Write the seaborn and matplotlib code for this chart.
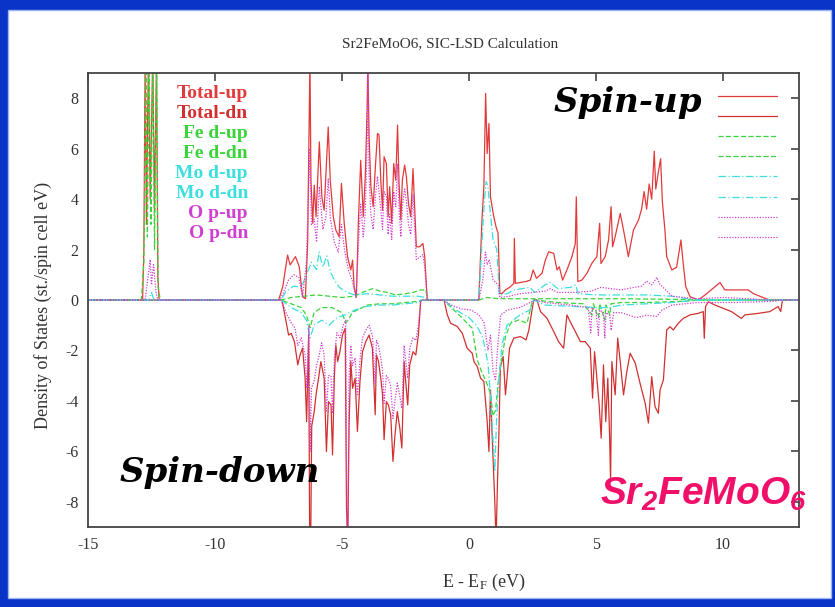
import matplotlib
matplotlib.use("Agg")
import matplotlib.pyplot as plt
import seaborn as sns
import pandas as pd
from matplotlib.patches import Rectangle

# ---------------- data ----------------
e_tot_up = [-15, -12.85, -12.8, -12.75, -12.7, -12.62, -12.55, -12.45, -12.38, -12.3, -12.25, -12.2,
            -7.5, -7.46, -7.33, -7.14, -7.04, -6.83, -6.68, -6.55, -6.44, -6.35, -6.3, -6.26, -6.22, -6.15,
            -6.09, -6.02, -5.89, -5.79, -5.70, -5.63, -5.54, -5.46, -5.34, -5.24, -5.11, -5.02, -4.91, -4.78,
            -4.65, -4.58, -4.52, -4.43, -4.35, -4.26, -4.16, -4.08, -4.01, -3.98, -3.93, -3.86, -3.77, -3.69,
            -3.60, -3.54, -3.47, -3.40, -3.34, -3.25, -3.18, -3.12, -3.04, -2.96, -2.88, -2.81, -2.75, -2.68,
            -2.62, -2.53, -2.46, -2.38, -2.29, -2.20, -2.13, -2.07, -1.94, -1.81, -1.74, -1.64,
            0.39, 0.52, 0.59, 0.66, 0.72, 0.79, 0.85, 0.98, 1.07, 1.15, 1.22, 1.31, 1.44, 1.64, 1.77, 1.79,
            1.83, 2.23, 2.42, 2.53, 2.66, 2.88, 3.01, 3.14, 3.34, 3.47, 3.56, 3.69, 3.86, 4.06, 4.19, 4.23,
            4.29, 4.45, 4.65, 4.84, 5.04, 5.15, 5.20, 5.37, 5.50, 5.60, 5.66, 5.76, 5.96, 6.09, 6.28, 6.48,
            6.68, 6.8, 6.9, 7.0, 7.1, 7.2, 7.3, 7.36, 7.45, 7.55, 7.62, 7.72, 7.79, 7.99, 8.18, 8.35, 8.44,
            8.54, 8.71, 9.03, 9.30, 9.89, 10.08, 11.0, 11.19, 11.65, 11.85, 13]
d_tot_up = [0, 0, 2.0, 9.6, 3.0, 9.6, 4.0, 9.6, 3.5, 9.6, 1.0, 0,
            0, 0.1, 0.53, 1.78, 1.39, 1.72, 1.32, 0.13, 0.05, 2.25, 6.47, 9.6, 4.75, 3.04,
            4.55, 3.3, 6.27, 4.09, 3.56, 5.02, 6.86, 4.75, 3.3, 2.77, 2.51, 4.62, 3.04, 1.72,
            1.19, 1.58, 0.53, 0.13, 3.17, 5.54, 3.30, 4.88, 7.52, 9.4, 6.47, 4.49, 3.70, 5.15,
            6.60, 6.55, 4.75, 3.56, 5.68, 5.41, 3.30, 4.49, 3.04, 5.41, 4.75, 6.93, 4.62, 3.17,
            4.75, 5.35, 4.88, 3.83, 3.30, 5.21, 3.56, 2.11, 2.11, 2.24, 1.72, 0.0,
            0, 3.30, 4.49, 8.19, 5.81, 7.0, 4.09, 3.30, 2.90, 2.64, 0.26, 0.26, 0.40, 0.53, 0.66, 2.44,
            0.66, 0.73, 0.79, 1.19, 0.86, 1.06, 1.58, 1.91, 1.85, 1.19, 1.32, 0.79, 1.19, 1.72, 2.24, 4.09,
            0.73, 0.79, 1.06, 1.45, 1.72, 3.04, 1.45, 1.72, 2.38, 3.70, 2.11, 2.51, 3.43, 2.77, 1.72, 2.77,
            3.17, 3.6, 4.3, 3.6, 4.6, 4.0, 5.9, 4.4, 5.0, 5.6, 3.9, 2.77, 1.72, 1.19, 1.3, 2.38, 1.45,
            0.53, 0.13, 0.0, 0.2, 0.69, 0.4, 0.4, 0.26, 0.07, 0, 0]

e_tot_dn = [-15, -7.4, -7.36, -7.20, -7.10, -7.00, -6.87, -6.74, -6.65, -6.55, -6.45, -6.39, -6.31, -6.27,
            -6.23, -6.19, -6.09, -6.02, -5.92, -5.83, -5.70, -5.61, -5.53, -5.43, -5.37, -5.30, -5.24, -5.17,
            -5.08, -4.98, -4.87, -4.82, -4.77, -4.72, -4.65, -4.58, -4.48, -4.39, -4.29, -4.19, -4.06, -3.93,
            -3.80, -3.69, -3.64, -3.56, -3.47, -3.40, -3.34, -3.25, -3.17, -3.08, -2.99, -2.91, -2.82, -2.72,
            -2.64, -2.55, -2.49, -2.41, -2.33, -2.20, -2.09, -1.99, -1.90, -1.86,
            -0.98, -0.85, -0.72, -0.46, -0.26, -0.07, 0.13, 0.20, 0.33, 0.46, 0.59, 0.72, 0.79, 0.85, 0.92,
            1.02, 1.07, 1.13, 1.18, 1.24, 1.35, 1.44, 1.50, 1.60, 1.77, 2.03, 2.25, 2.36, 2.55, 2.68, 2.82,
            3.08, 3.34, 3.53, 3.73, 3.86, 3.99, 4.19, 4.39, 4.58, 4.78, 4.87, 4.95, 5.04, 5.13, 5.21, 5.30,
            5.39, 5.47, 5.54, 5.58, 5.63, 5.76, 5.86, 5.96, 6.09, 6.22, 6.35, 6.55, 6.74, 6.94, 7.07, 7.20,
            7.33, 7.46, 7.53, 7.66, 7.79, 7.92, 8.05, 8.25, 8.44, 8.71, 9.03, 9.23, 9.27, 9.32, 9.43, 9.69,
            10.34, 10.73, 10.87, 11.39, 11.85, 12.18, 12.28, 12.35, 13]
d_tot_dn = [0, 0, 0, -0.86, -1.39, -1.32, -1.65, -2.57, -2.18, -1.91, -3.10, -4.82, -1.39, -9.6,
            -9.6, -5.0, -4.42, -3.76, -3.1, -2.44, -3.1, -6.01, -4.03, -4.16, -6.14, -3.1, -1.78, -2.44,
            -2.05, -1.39, -1.12, -8.25, -9.6, -5.0, -2.44, -3.50, -3.1, -5.21, -3.23, -2.05, -1.65, -1.39,
            -1.91, -4.55, -2.18, -2.44, -3.1, -3.76, -5.54, -4.03, -4.16, -4.55, -6.40, -5.35, -4.42, -5.08,
            -5.87, -2.44, -3.23, -4.16, -2.57, -2.05, -2.18, -1.39, -0.07, 0,
            0, -0.59, -0.92, -1.05, -1.32, -1.91, -2.11, -2.44, -2.64, -3.1, -3.23, -4.82, -6.01, -3.56, -5.48,
            -7.99, -9.6, -7.06, -5.35, -2.64, -2.24, -3.76, -3.1, -1.91, -1.51, -1.45, -1.58, -1.2, 0, 0, -0.46,
            -0.73, -1.25, -1.65, -1.91, -0.59, -0.86, -1.25, -1.65, -1.65, -1.91, -3.89, -2.05, -3.1, -4.16, -5.48, -2.57,
            -4.82, -3.1, -5.35, -7.2, -2.44, -3.76, -1.51, -2.44, -3.76, -2.84, -2.11, -2.5, -3.3, -4.09, -4.88, -3.04,
            -4.23, -4.49, -3.56, -3.17, -1.19, -1.06, -1.19, -0.92, -0.73, -0.59, -0.53, -0.46, -1.52, -0.26, -0.07, -0.2,
            -0.46, -0.73, -0.59, -0.53, -0.46, -0.26, -0.46, 0, 0]

e_fe_up = [-15, -12.9, -12.8, -12.72, -12.66, -12.6, -12.52, -12.45, -12.38, -12.3, -12.24, -12.15,
           -7.4, -7.0, -6.5, -6.0, -5.5, -5.0, -4.5, -4.2, -3.8, -3.5, -3.2, -2.9, -2.5, -2.2, -1.9, -1.7,
           -1.62, 0.4, 0.7, 1.2, 2.0, 4.0, 6.0, 8.5, 9.0, 13]
d_fe_up = [0, 0, 1.5, 9.6, 2.5, 9.6, 3.0, 9.6, 2.0, 9.6, 0.5, 0,
           0, 0.1, 0.15, 0.2, 0.15, 0.1, 0.15, 0.3, 0.45, 0.35, 0.3, 0.2, 0.25, 0.3, 0.4, 0.4,
           0, 0, 0.1, 0.05, 0.05, 0.05, 0.05, 0.02, 0, 0]

e_fe_dn = [-15, -7.4, -7.0, -6.6, -6.4, -6.25, -6.1, -5.8, -5.4, -5.0, -4.85, -4.75, -4.6, -4.3, -4.0,
           -3.5, -3.0, -2.5, -2.0, -1.86, -1.0, -0.39, 0.13, 0.33, 0.52, 0.65, 0.85, 0.95, 1.05, 1.15,
           1.31, 1.44, 1.64, 1.96, 2.29, 2.49, 2.6, 3.5, 4.5, 4.85, 4.9, 5.1, 5.15, 5.35, 5.4, 5.55, 5.6,
           6.0, 7.0, 8.5, 9.0, 13]
d_fe_dn = [0, 0, -0.15, -0.3, -0.6, -1.1, -0.5, -0.3, -0.3, -0.5, -0.9, -0.8, -0.5, -0.35, -0.2,
           -0.15, -0.15, -0.1, -0.05, 0, 0, -0.59, -1.12, -2.37, -2.9, -3.16, -3.7, -4.6, -4.36, -3.3,
           -2.24, -1.45, -0.92, -0.79, -0.92, -0.07, 0, -0.1, -0.15, -0.6, -0.15, -0.7, -0.15, -0.8, -0.2, -0.6, -0.15,
           -0.1, -0.1, -0.05, 0, 0]

e_mo_up = [-15, -12.6, -12.5, -12.4, -7.4, -7.2, -6.9, -6.6, -6.4, -6.2, -6.0, -5.9, -5.75, -5.6, -5.45,
           -5.3, -5.1, -4.8, -4.5, -4.0, -3.5, -3.0, -2.5, -2.0, -1.7, -1.62, 0.39, 0.5, 0.6, 0.68, 0.75,
           0.85, 0.95, 1.1, 1.2, 1.5, 1.8, 2.4, 2.6, 3.0, 3.2, 3.5, 4.0, 4.2, 4.3, 5.0, 6.0, 7.0, 8.0, 8.6,
           9.0, 13]
d_mo_up = [0, 0, 0.3, 0, 0, 0.35, 0.55, 0.5, 1.0, 1.5, 1.2, 1.9, 1.3, 1.75, 1.1,
           0.8, 0.5, 0.3, 0.2, 0.25, 0.2, 0.15, 0.15, 0.15, 0.1, 0, 0, 2.0, 3.8, 4.7, 4.5,
           3.4, 2.4, 2.0, 0.2, 0.25, 0.4, 0.5, 0.3, 0.6, 0.7, 0.45, 0.5, 0.6, 0.25, 0.2, 0.2, 0.2, 0.15, 0.05,
           0, 0]

e_mo_dn = [-15, -7.4, -7.0, -6.6, -6.4, -6.25, -6.1, -5.8, -5.5, -5.2, -4.9, -4.5, -4.0, -3.5, -3.0,
           -2.5, -2.0, -1.86, -1.0, -0.5, 0.0, 0.3, 0.55, 0.75, 0.85, 0.95, 1.02, 1.08, 1.15, 1.3, 1.5,
           2.0, 2.4, 2.55, 3.0, 4.0, 5.0, 5.5, 6.0, 7.0, 8.0, 9.0, 13]
d_mo_dn = [0, 0, -0.3, -0.5, -0.8, -1.5, -1.0, -0.8, -1.0, -0.7, -0.6, -0.4, -0.25, -0.2, -0.2,
           -0.15, -0.1, 0, 0, -0.4, -0.7, -1.0, -1.5, -2.5, -3.8, -5.5, -6.8, -5.0, -3.5, -1.8, -1.0,
           -0.6, -0.4, 0, -0.2, -0.25, -0.3, -0.3, -0.2, -0.15, -0.1, 0, 0]

e_o_up = [-15, -12.75, -12.65, -12.55, -12.5, -12.42, -12.32, -12.25, -7.45, -7.3, -7.1, -6.9, -6.7,
          -6.55, -6.4, -6.27, -6.2, -6.09, -6.0, -5.89, -5.75, -5.63, -5.54, -5.45, -5.3, -5.15, -5.02,
          -4.9, -4.75, -4.6, -4.45, -4.35, -4.26, -4.16, -4.08, -4.0, -3.98, -3.93, -3.86, -3.77, -3.69,
          -3.6, -3.47, -3.40, -3.34, -3.25, -3.18, -3.12, -3.04, -2.96, -2.88, -2.81, -2.75, -2.68, -2.62,
          -2.53, -2.46, -2.38, -2.29, -2.20, -2.13, -2.07, -1.94, -1.81, -1.74, -1.64, 0.39, 0.55, 0.65,
          0.72, 0.8, 0.95, 1.15, 1.22, 1.6, 2.0, 3.0, 3.2, 3.5, 4.2, 4.8, 5.2, 5.6, 6.0, 6.5, 6.8, 7.0,
          7.2, 7.4, 7.5, 7.7, 8.0, 8.5, 9.0, 10, 11, 11.8, 13]
d_o_up = [0, 0, 0.8, 1.6, 0.6, 1.4, 0.3, 0, 0, 0.3, 0.8, 1.0, 0.9,
          0.1, 1.5, 6.0, 3.0, 3.2, 2.3, 4.5, 2.8, 3.3, 4.8, 3.2, 2.3, 1.9, 3.0,
          2.0, 1.2, 0.8, 0.1, 2.2, 3.8, 2.5, 3.5, 6.5, 9.2, 5.0, 3.4, 2.8, 4.0,
          4.9, 3.6, 2.8, 4.3, 4.1, 2.6, 3.4, 2.4, 4.3, 3.7, 5.4, 3.6, 2.5, 3.7,
          4.4, 3.9, 3.0, 2.6, 4.2, 2.8, 1.6, 1.7, 1.8, 1.3, 0, 0, 0.8, 1.9,
          1.4, 1.6, 0.8, 0.6, 0.1, 0.15, 0.25, 0.35, 0.45, 0.3, 0.3, 0.35, 0.5, 0.45, 0.4, 0.5, 0.55, 0.75,
          0.6, 0.9, 0.65, 0.45, 0.15, 0.1, 0.05, 0.1, 0.05, 0, 0]

e_o_dn = [-15, -7.4, -7.2, -7.0, -6.85, -6.74, -6.6, -6.45, -6.38, -6.3, -6.25, -6.2, -6.09, -6.0,
          -5.9, -5.8, -5.7, -5.61, -5.53, -5.43, -5.37, -5.3, -5.2, -5.08, -4.95, -4.85, -4.8, -4.76,
          -4.72, -4.65, -4.58, -4.48, -4.39, -4.29, -4.19, -4.06, -3.93, -3.8, -3.69, -3.64, -3.56, -3.47,
          -3.40, -3.34, -3.25, -3.17, -3.08, -2.99, -2.91, -2.82, -2.72, -2.64, -2.55, -2.49, -2.41, -2.33,
          -2.2, -2.09, -1.99, -1.9, -1.86, -1.0, -0.7, -0.3, 0.1, 0.4, 0.6, 0.75, 0.85, 0.95, 1.05, 1.12,
          1.25, 1.5, 2.0, 2.5, 2.6, 3.0, 4.0, 4.7, 4.8, 4.85, 5.0, 5.1, 5.15, 5.3, 5.35, 5.4, 5.55, 5.6,
          5.7, 6.0, 6.3, 6.6, 7.0, 7.4, 7.6, 8.0, 9.0, 10.5, 12.0, 12.3, 13]
d_o_dn = [0, 0, -0.5, -0.9, -1.1, -1.8, -1.5, -2.2, -3.5, -1.0, -6.0, -3.5, -3.2, -2.6,
          -2.2, -1.7, -2.2, -4.4, -3.0, -3.0, -4.5, -2.3, -1.3, -1.5, -1.0, -0.8, -9.6, -9.6,
          -3.0, -1.8, -2.6, -2.3, -3.8, -2.4, -1.5, -1.2, -1.0, -1.4, -3.3, -1.6, -1.8, -2.3,
          -2.8, -4.1, -3.0, -3.1, -3.4, -4.7, -4.0, -3.3, -3.8, -4.3, -1.8, -2.4, -3.1, -1.9,
          -1.5, -1.6, -1.0, -0.05, 0, 0, -0.2, -0.35, -0.4, -0.6, -0.9, -2.0, -1.4, -2.8, -3.2, -2.0,
          -0.6, -0.4, -0.3, -0.05, 0, -0.1, -0.2, -0.3, -1.3, -0.3, -0.4, -1.4, -0.4, -0.5, -1.5, -0.5, -0.6, -1.2,
          -0.5, -0.5, -0.6, -0.7, -0.6, -0.65, -0.4, -0.2, -0.1, -0.1, -0.05, 0, 0]

labels = ["Total-up", "Total-dn", "Fe d-up", "Fe d-dn", "Mo d-up", "Mo d-dn", "O p-up", "O p-dn"]
colors = ["#e23a3a", "#d23030", "#3ad43a", "#3ad43a", "#3cdede", "#3cdede", "#d040d0", "#d040d0"]
styles = ["-", "-", (0, (4, 2)), (0, (4, 2)), (0, (6, 2, 1, 2)), (0, (6, 2, 1, 2)), (0, (1, 1.2)), (0, (1, 1.2))]
series = [(e_tot_up, d_tot_up), (e_tot_dn, d_tot_dn), (e_fe_up, d_fe_up), (e_fe_dn, d_fe_dn),
          (e_mo_up, d_mo_up), (e_mo_dn, d_mo_dn), (e_o_up, d_o_up), (e_o_dn, d_o_dn)]

x_ticks = [-15, -10, -5, 0, 5, 10]
y_ticks = [-8, -6, -4, -2, 0, 2, 4, 6, 8]

# ---------------- style ----------------
sns.set_style("white")
plt.rcParams["font.family"] = ["Liberation Serif", "DejaVu Serif"]
plt.rcParams["axes.unicode_minus"] = False
plt.rcParams["mathtext.fontset"] = "custom"
plt.rcParams["mathtext.rm"] = "Liberation Serif"
plt.rcParams["mathtext.it"] = "Liberation Serif:italic"
plt.rcParams["mathtext.bf"] = "Liberation Sans:bold:italic"

W, H = 835, 607
fig = plt.figure(figsize=(W / 100, H / 100), dpi=100, facecolor="#0a34c8")
fig.patches.append(Rectangle((8 / W, 9 / H), (W - 8 - 4) / W, (H - 9 - 10) / H,
                             transform=fig.transFigure, facecolor="white",
                             edgecolor="#9db4f0", linewidth=1.0, zorder=-5))
ax = fig.add_axes([88 / W, 1 - 527 / H, (799 - 88) / W, (527 - 73) / H])
ax.set_facecolor("white")

for (e, d), c, ls in zip(series, colors, styles):
    df = pd.DataFrame({"E": e, "D": d})
    sns.lineplot(data=df, x="E", y="D", ax=ax, color=c, linestyle=ls, linewidth=0.9,
                 estimator=None, sort=False, legend=False)

ax.set_xlim(-15, 13)
ax.set_ylim(-9, 9)
ax.set_xticks(x_ticks)
ax.set_yticks(y_ticks)
ax.tick_params(direction="in", length=6, width=1.2, color="#444444", top=True, right=True,
               labelsize=11.5, labelcolor="#333333", pad=7)
for s in ax.spines.values():
    s.set_color("#444444")
    s.set_linewidth(1.3)

ax.set_xlabel(r"E - E$_\mathrm{F}$ (eV)", fontsize=13, color="#333333")
ax.set_ylabel("Density of States (st./spin cell eV)", fontsize=13, color="#333333")
ax.xaxis.set_label_coords(0.556, -0.099)
ax.yaxis.set_label_coords(-0.051, 0.487)
fig.text(450 / W, 1 - 44 / H, "Sr2FeMoO6, SIC-LSD Calculation", ha="center", va="center",
         fontsize=11, color="#333333")

# key: labels on the left, samples on the right (as in the picture)
row_y = [93, 113, 133, 153, 173, 194, 214, 234]
for lab, c, ls, py in zip(labels, colors, styles, row_y):
    yf = (527 - py) / 454
    ax.text(0.225, yf, lab, transform=ax.transAxes, ha="right", va="center",
            fontsize=14, fontweight="bold", color=c)
    ax.plot([0.886, 0.969], [yf - 0.006, yf - 0.006], transform=ax.transAxes, color=c,
            linestyle=ls, linewidth=0.9)

big = dict(fontsize=24.5, fontweight="bold", fontstyle="italic", color="black",
           family=["DejaVu Serif"])
ax.text(0.655, 0.934, "Spin-up", transform=ax.transAxes, ha="left", va="center", **big)
ax.text(0.045, 0.121, "Spin-down", transform=ax.transAxes, ha="left", va="center", **big)
ax.text(0.720, 0.070, r"$\mathbf{Sr_2FeMoO_6}$", transform=ax.transAxes, ha="left", va="center",
        fontsize=28, color="#f0106a", clip_on=False)

fig.savefig("out.png", dpi=100, facecolor=fig.get_facecolor())
